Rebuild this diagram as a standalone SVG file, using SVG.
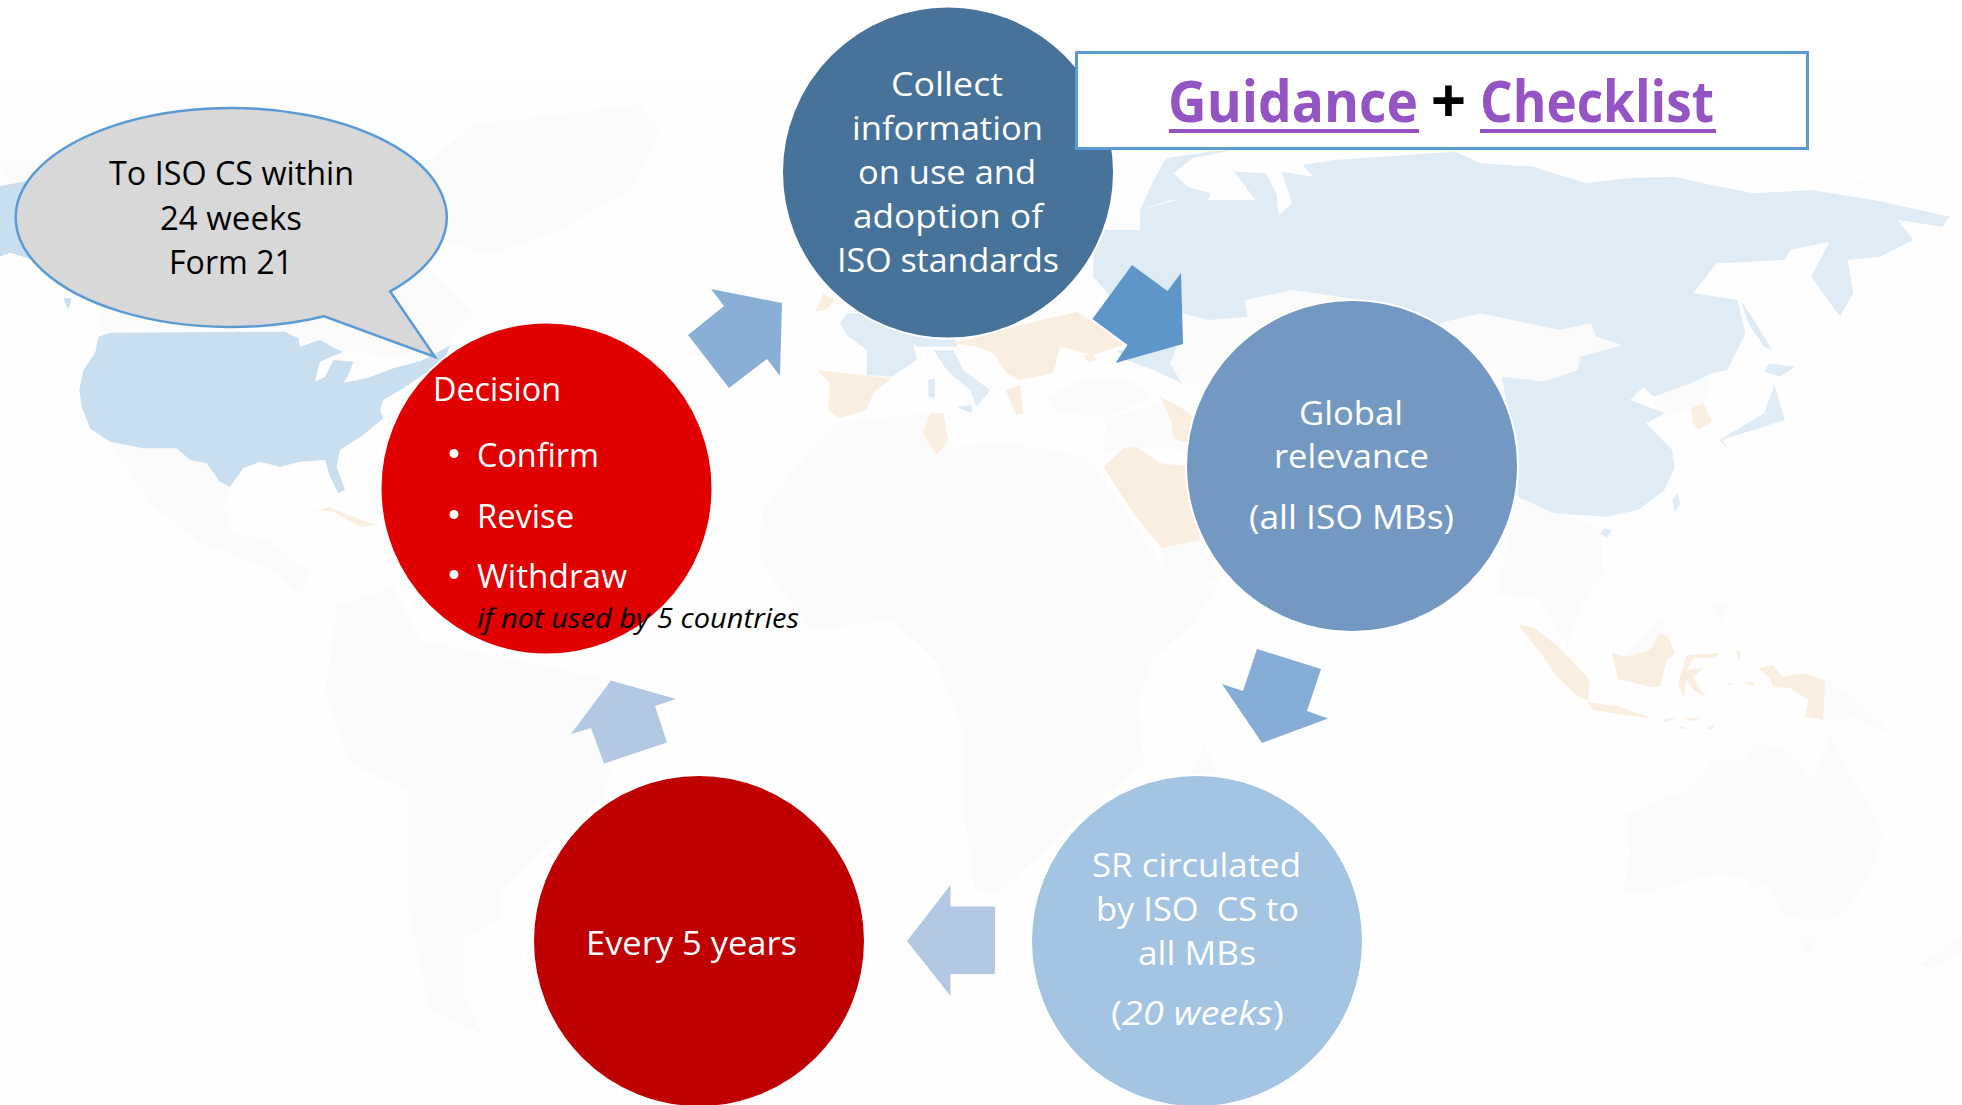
<svg xmlns="http://www.w3.org/2000/svg" width="1962" height="1105" viewBox="0 0 1962 1105">
<style>
text{font-family:"Open Sans","Noto Sans","Liberation Sans",sans-serif;font-size:33px;fill:#fff}
.c{stroke:#fff;stroke-width:2}
.g{fill:#fbfbfb}
.b{fill:#dfecf6}
.u{fill:#c9dff0}
.o{fill:#faeee0}
.k{fill:#000}
.i{font-style:italic}
.t{font-weight:700;font-size:58px;fill:#9454c3}
.l{fill:#9454c3}
.a{stroke:none}
</style>
<rect width="1962" height="1105" fill="#fff"/>
<g id="map">
<rect y="80" width="1962" height="1025" fill="#fefefe"/>
<g transform="translate(0,60) scale(.33333)">
<path class="g" d="M100 600L300 720L300 815L860 815L900 835L1020 870L1250 900L1350 840L1420 760L1300 640L1180 420L1400 300L0 300Z"/>
<path class="g" d="M330 1150L530 1170L620 1215L690 1285L670 1340L700 1420L800 1440L930 1540L900 1600L800 1520L600 1450L450 1330Z"/>
<path class="u" d="M330 818L855 815L895 835L900 860L960 840L1010 868L1030 875L960 905L945 965L975 950L1000 900L1060 905L1045 945L1030 968L1100 955L1180 925L1255 905L1300 885L1350 855L1340 885L1290 930L1210 985L1150 1020L1140 1050L1150 1075L1090 1125L1020 1170L1010 1220L1035 1290L1015 1300L990 1250L975 1200L900 1205L840 1220L780 1205L730 1225L690 1280L660 1265L620 1210L570 1200L530 1165L430 1165L330 1145L270 1105L245 1040L238 990L250 930L285 880L295 830Z"/>
<path class="u" d="M0 378L100 360L100 600L30 578L0 590ZM190 715L215 715L205 750Z"/>
<path class="o" d="M935 1360L985 1340L1060 1370L1130 1395L1080 1400L1000 1355L950 1350Z"/>
</g>
<path class="g" d="M400 190L470 125L640 105L660 130L630 190L560 230L490 255L440 240Z"/>
<path class="g" d="M338 605L394 587L420 640L610 680L640 720L610 770L604 798L550 844L500 890L500 918L463 939L463 992L482 1034L430 1010L407 904L407 791L350 763L325 692Z"/>
<path class="g" d="M810 450L837 423L927 413L950 447L1007 443L1087 457L1123 507L1163 570L1217 587L1193 623L1153 660L1137 703L1144 763L1062 834L1000 893L975 890L965 820L963 730L937 663L893 620L810 630L760 560L762 510Z"/>
<path class="g" d="M1205 745L1215 770L1190 820L1180 800Z"/>
<g transform="translate(760,250) scale(.33333)">
<path class="g" d="M860 440L960 390L1100 385L1180 440L1040 500L900 490Z"/>
<path class="g" d="M1040 510L1200 460L1280 600L1090 590L1030 610Z"/>
<path class="g" d="M1205 900L1330 860L1380 1000L1220 975Z"/>
<path class="g" d="M1280 190L1440 200L1440 400L1260 400L1230 340Z"/>
<path class="b" d="M1000 -60L1440 -60L1440 200L1280 190L1070 160L1000 80Z"/>
<path class="b" d="M1070 300L1250 290L1230 340L1265 400L1180 360L1100 330Z"/>
<path class="b" d="M240 220L260 190L340 190L590 240L590 290L470 290L460 280L470 330L395 380L320 375L320 300L260 255Z"/>
<path class="b" d="M520 300L580 300L610 360L690 420L650 470L630 420L560 360ZM505 390L525 385L525 445L505 440ZM590 470L635 465L635 490Z"/>
<path class="o" d="M165 185L190 130L225 150L200 180ZM170 360L395 385L340 430L320 480L240 505L205 480L210 400ZM510 490L550 490L565 570L530 615L490 550ZM580 280L760 230L950 185L1020 230L1090 285L1000 315L900 290L880 370L780 390L740 370L700 310L650 290ZM735 420L780 405L790 490L770 495ZM970 315L1000 310L1010 330L985 335ZM1030 650L1090 595L1130 590L1200 640L1300 650L1320 870L1205 895L1120 790ZM1200 440L1260 470L1300 500L1280 580L1240 565L1235 520Z"/>
</g>
<g transform="translate(1140,100) scale(.52434,.33333)">
<path class="g" d="M720 1190L880 1290L880 1420L800 1500L680 1480ZM200 600L290 570L400 595L500 620L570 670L650 640L740 670L800 690L860 670L870 710L920 735L840 770L835 810L770 845L690 830L700 850L120 800L80 640L130 660L205 650ZM1000 850L1090 820L1075 910L1050 925L975 960ZM1355 240L1385 245L1370 252Z"/>
<path class="b" d="M0 330L70 300L130 300L220 300L180 215L240 220L260 280L265 345L290 310L270 215L330 230L310 195L370 180L600 155L650 190L750 200L850 250L930 235L1020 230L1090 255L1170 280L1280 270L1400 300L1545 350L1530 380L1445 360L1475 420L1410 470L1350 480L1360 580L1335 650L1280 530L1315 425L1240 450L1230 480L1100 490L1055 580L1140 600L1145 640L1155 700L1120 810L1090 820L1050 850L980 890L960 860L935 900L1000 940L965 970L1015 1050L1020 1100L1000 1170L950 1230L890 1250L790 1240L720 1190L720 1100L690 830L770 845L835 810L840 770L920 735L870 710L860 670L800 690L740 670L650 640L570 670L500 620L400 595L290 570L200 600L205 650L130 660L80 640L80 730L0 770Z"/>
<path class="b" d="M28 235L50 175L130 155L180 150L100 175L65 220L90 260L135 280L130 300L60 300L0 330ZM1200 790L1250 800L1220 830L1190 815ZM1210 855L1230 960L1150 1000L1110 1020L1125 1050L1105 1020L1190 940ZM1145 600L1175 670L1205 750L1190 740L1160 670ZM885 1285L900 1290L890 1315L878 1300ZM1025 1180L1030 1210L1020 1235L1015 1200Z"/>
<path class="o" d="M1050 925L1075 910L1092 965L1065 990L1055 970Z"/>
</g>
<g transform="translate(1480,560) scale(.33333)">
<path class="g" d="M150 0L380 30L310 120L260 260L180 120ZM430 285L540 175L555 215L510 270ZM690 130L740 130L730 190Z"/>
<path class="g" d="M440 760L620 690L700 600L800 600L820 550L920 570L1000 660L1050 530L1110 640L1210 820L1170 950L1080 1070L990 1085L900 1060L870 970L820 990L800 950L700 940L480 1005L430 990L450 880ZM960 1130L1020 1130L980 1180ZM1035 360L1130 420L1230 515L1170 500L1130 470L1035 485Z"/>
<path class="o" d="M115 195L160 200L240 265L330 360L325 420L300 415L230 350L190 290ZM320 425L420 440L515 475L430 465L340 450ZM395 275L430 290L510 270L540 220L565 230L585 280L560 300L540 380L510 380L450 365L415 360ZM620 285L720 280L700 295L640 295L620 330L670 325L640 350L675 410L640 390L620 360L610 415L595 370ZM835 325L880 315L905 350L970 340L1035 360L1030 480L975 470L985 420L930 385L880 380L870 355ZM768 268L785 280L775 310ZM740 370L760 368L750 378ZM785 365L825 368L815 378ZM545 480L590 472L560 486ZM612 476L665 472L640 484ZM595 495L620 505L605 508ZM680 505L708 488L695 510Z"/>
</g>
<path class="g" d="M1920 965L1962 935L1962 950L1935 968Z"/>
</g>
<g id="connectors" class="a">
<polygon fill="#8aafd6" points="711,289 782,303 780,376 767,359 729,388 688,335 724,306"/>
<polygon fill="#5f96c9" points="1132,265 1167.500,291 1181,273 1183,344 1115.500,363 1127.500,345 1092.400,319"/>
<polygon fill="#86add6" points="1257,649 1321,669 1307,711 1328,718.500 1262,743 1222,684 1243,691"/>
<polygon fill="#b2c8e3" points="907,941 950.500,885 950.500,906.600 995,906.600 995,974 950.500,974 950.500,996"/>
<polygon fill="#b2c8e3" points="611,680.500 676,699 655,706 667,742.500 604,763.600 591,728 571,734"/>
</g>
<g id="node-collect">
<circle class="c" cx="948" cy="172.500" r="166" fill="#477299"/>
<text x="891" y="96" textLength="112" lengthAdjust="spacingAndGlyphs">Collect</text>
<text x="852" y="140" textLength="191" lengthAdjust="spacingAndGlyphs">information</text>
<text x="858" y="184" textLength="178" lengthAdjust="spacingAndGlyphs">on use and</text>
<text x="853" y="228" textLength="190" lengthAdjust="spacingAndGlyphs">adoption of</text>
<text x="837" y="272" textLength="222" lengthAdjust="spacingAndGlyphs">ISO standards</text>
</g>
<g id="node-global">
<circle class="c" cx="1352" cy="466" r="166" fill="#7399c3"/>
<text x="1299" y="425" textLength="104" lengthAdjust="spacingAndGlyphs">Global</text>
<text x="1274" y="468" textLength="155" lengthAdjust="spacingAndGlyphs">relevance</text>
<text x="1249" y="529" textLength="205" lengthAdjust="spacingAndGlyphs">(all ISO MBs)</text>
</g>
<g id="node-sr">
<circle class="c" cx="1197" cy="941" r="166" fill="#a3c4e3"/>
<text x="1092" y="877" textLength="209" lengthAdjust="spacingAndGlyphs">SR circulated</text>
<text x="1096" y="921" textLength="203" lengthAdjust="spacingAndGlyphs" xml:space="preserve">by ISO  CS to</text>
<text x="1138" y="965" textLength="118" lengthAdjust="spacingAndGlyphs">all MBs</text>
<text x="1111" y="1025" textLength="173" lengthAdjust="spacingAndGlyphs">(<tspan class="i">20 weeks</tspan>)</text>
</g>
<g id="node-every">
<circle class="c" cx="699" cy="941" r="166" fill="#bf0000"/>
<text x="586" y="955" textLength="211" lengthAdjust="spacingAndGlyphs">Every 5 years</text>
</g>
<g id="node-decision">
<circle class="c" cx="546.500" cy="488.500" r="166" fill="#e00000"/>
<text x="433" y="401" textLength="128" lengthAdjust="spacingAndGlyphs">Decision</text>
<circle cx="454" cy="453.500" r="4.500" fill="#fff"/>
<text x="477" y="467" textLength="122" lengthAdjust="spacingAndGlyphs">Confirm</text>
<circle cx="454" cy="514.500" r="4.500" fill="#fff"/>
<text x="477" y="528" textLength="97" lengthAdjust="spacingAndGlyphs">Revise</text>
<circle cx="454" cy="574.500" r="4.500" fill="#fff"/>
<text x="477" y="588" textLength="150" lengthAdjust="spacingAndGlyphs">Withdraw</text>
<text class="k i" x="477" y="628" style="font-size:27px" textLength="322" lengthAdjust="spacingAndGlyphs">if not used by 5 countries</text>
</g>
<g id="node-bubble">
<path fill="#d8d8d8" stroke="#5b9bd5" stroke-width="2.500" d="M390.200 291.410A215.500 109.500 0 1 0 324.200 316.280L435 357Z"/>
<text class="k" x="109" y="185" textLength="245" lengthAdjust="spacingAndGlyphs">To ISO CS within</text>
<text class="k" x="160" y="230" textLength="142" lengthAdjust="spacingAndGlyphs">24 weeks</text>
<text class="k" x="169" y="274" textLength="124" lengthAdjust="spacingAndGlyphs">Form 21</text>
</g>
<g id="node-links">
<rect x="1076.500" y="52.500" width="731" height="96" fill="#fff" stroke="#5b9bd5" stroke-width="3"/>
<text class="t" transform="translate(1168,122) scale(.92,1)">Guidance</text>
<rect class="l" x="1169" y="129" width="250" height="4"/>
<text class="k" x="1448.500" y="123" text-anchor="middle" style="font-size:62px;font-weight:700">+</text>
<text class="t" transform="translate(1480,122) scale(.885,1)">Checklist</text>
<rect class="l" x="1480" y="129" width="236" height="4"/>
</g>
</svg>
